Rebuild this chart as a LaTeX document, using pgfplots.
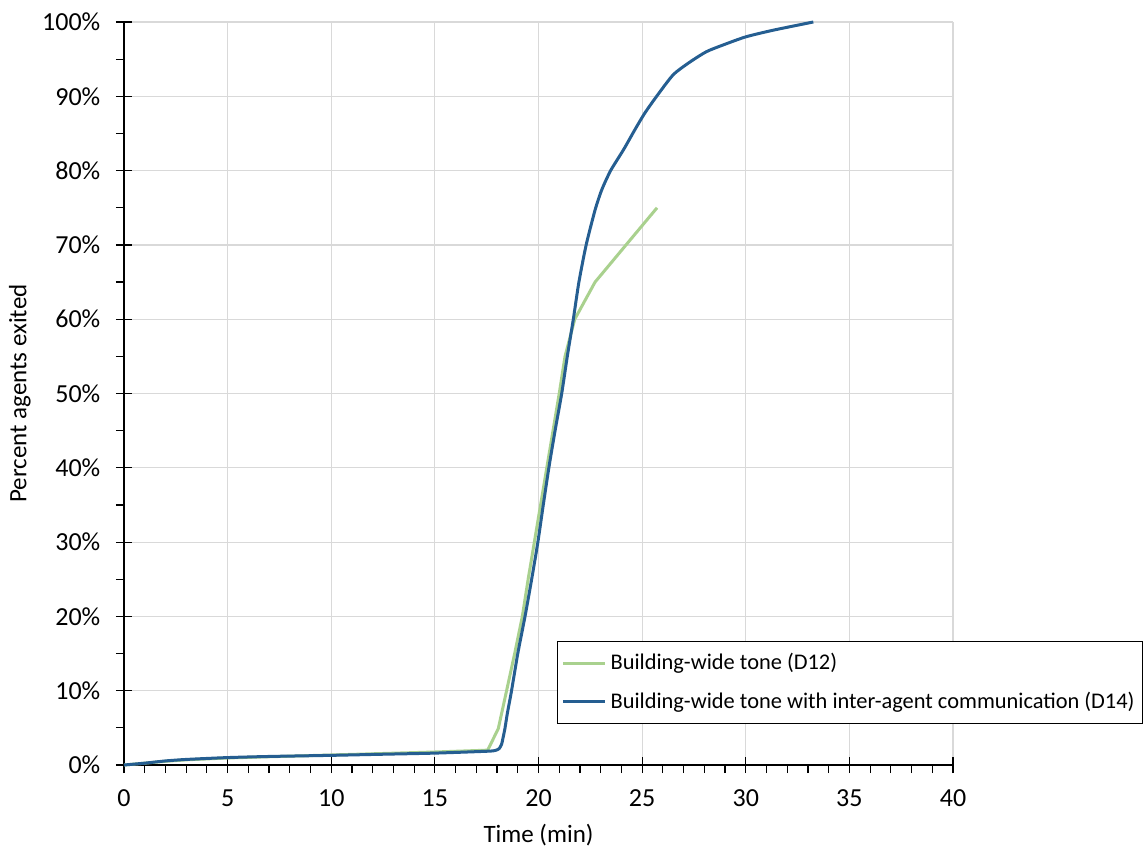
\documentclass[border=0pt]{standalone}
\usepackage{fontspec}
\setmainfont{Carlito}
\usepackage{pgfplots}
\pgfplotsset{compat=1.18}
\definecolor{dgreen}{RGB}{169,209,142}
\definecolor{dblue}{RGB}{37,94,145}
\definecolor{gridgray}{RGB}{217,217,217}
\begin{document}
\fontsize{12.5pt}{15pt}\selectfont
\begin{tikzpicture}
\begin{axis}[
  at={(0,0)}, anchor=south west,
  scale only axis,
  width=414.5pt, height=371.5pt,
  xmin=0, xmax=40, ymin=0, ymax=100,
  axis x line*=bottom, axis y line*=left,
  axis line style={black, line width=0.6pt, -},
  xtick={0,5,...,40},
  xticklabels={0,5,10,15,20,25,30,35,40},
  ytick={0,10,...,100},
  yticklabels={0\%,10\%,20\%,30\%,40\%,50\%,60\%,70\%,80\%,90\%,100\%},
  minor x tick num=4,
  minor y tick num=1,
  tick align=center,
  major tick length=8pt,
  minor tick length=4pt,
  tick style={black, line width=0.6pt},
  minor x tick style={yshift=-2pt},
  minor y tick style={xshift=-2pt},
  xmajorgrids, ymajorgrids,
  major grid style={gridgray, line width=0.6pt},
  xticklabel style={font=\fontsize{13pt}{15pt}\selectfont, yshift=-4pt},
  yticklabel style={font=\fontsize{13pt}{15pt}\selectfont, xshift=-3.5pt},
  xlabel={Time (min)},
  ylabel={Percent agents exited},
  xlabel style={font=\fontsize{12.5pt}{15pt}\selectfont, at={(axis description cs:0.5,-0.0942)}, anchor=center},
  ylabel style={font=\fontsize{12.5pt}{15pt}\selectfont, at={(axis description cs:-0.1255,0.5)}, anchor=center},
  legend style={at={(axis description cs:0.5223,0.1669)}, anchor=north west,
    draw=black, line width=0.6pt, font=\fontsize{11.2pt}{14pt}\selectfont,
    inner xsep=2pt, inner ysep=4pt, row sep=5pt, cells={anchor=west}},
  legend image code/.code={\draw[#1, line width=1.5pt] (0pt,0pt) -- (21pt,0pt);},
  clip=false,
]
\addplot[dgreen, line width=1.5pt] coordinates {
(0,0) (1,0.25) (2,0.5) (3,0.7) (5,0.95) (7.5,1.15) (10,1.35) (12.5,1.55) (15,1.75)
(17.55,2.0) (18.06,4.9) (18.46,10) (18.85,15) (19.22,20) (19.5,25) (19.8,30)
(20.1,35) (20.4,40) (20.7,45) (21.0,50) (21.28,55) (21.75,60) (22.73,65) (25.72,75)
};
\addlegendentry{Building-wide tone (D12)}
\addplot[dblue, line width=1.5pt, smooth, tension=0.4] coordinates {
(0,0) (1,0.25) (2,0.55) (3,0.75) (5,1.0) (7,1.15) (10,1.3) (12.5,1.45) (15,1.6)
(17.5,1.85) (17.9,1.95) (18.1,2.2) (18.22,2.8) (18.3,3.8) (18.38,4.9) (18.5,7)
(18.7,10) (19.0,15) (19.35,20) (19.67,25) (19.97,30) (20.23,35) (20.5,40) (20.8,45)
(21.12,50) (21.39,55) (21.68,60) (21.95,65) (22.3,70) (22.73,74.7) (23.05,77.4)
(23.48,80) (24.1,82.8) (24.65,85.5) (25.12,87.7) (25.7,90) (26.5,92.9) (27.3,94.6)
(28.1,96.0) (28.9,96.9) (30,98.0) (31.33,98.9) (33.26,100)
};
\addlegendentry{Building-wide tone with inter-agent communication (D14)}
\end{axis}
\pgfresetboundingbox
\useasboundingbox (-62pt,-41.5pt) rectangle (510.5pt,382.5pt);
\end{tikzpicture}
\end{document}
